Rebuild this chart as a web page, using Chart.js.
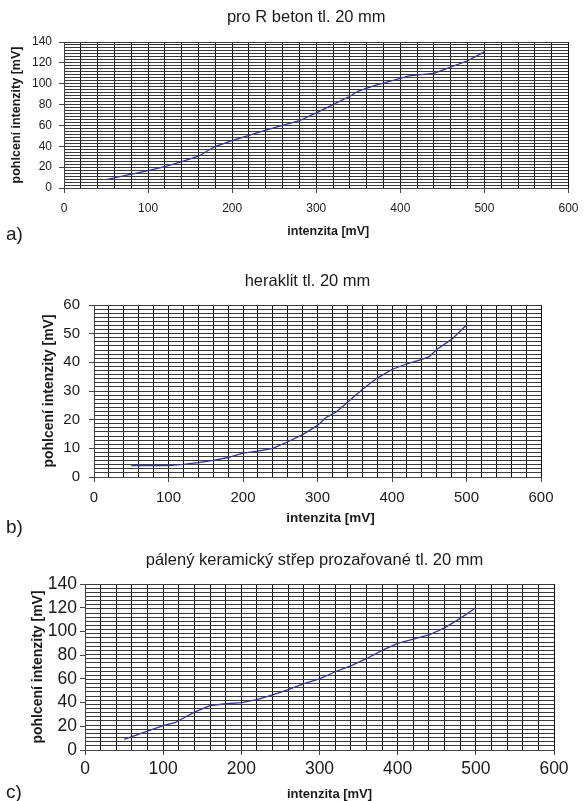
<!DOCTYPE html>
<html>
<head>
<meta charset="utf-8">
<script src="https://cdn.jsdelivr.net/npm/chart.js@4/dist/chart.umd.min.js"></script>
<style>
body{margin:0;background:#fff;width:587px;height:801px;overflow:hidden;position:relative}
canvas{position:absolute;left:0}
</style>
</head>
<body>
<canvas id="cA" width="587" height="250" style="top:0"></canvas>
<canvas id="cB" width="587" height="290" style="top:250px"></canvas>
<canvas id="cC" width="587" height="261" style="top:540px"></canvas>
<script>
// a) pro R beton
const betonX=[50,100,120,140,160,180,200,220,240,260,280,300,320,340,350,370,400,410,440,455,480,500];
const betonY=[8,16.6,20.4,25.2,30.5,40,45.5,50.5,55.5,60,64.5,72,80,88,93,98.5,105,107.5,110,114.5,122,130.5];
// b) heraklit
const heraklitX=[50,100,120,140,160,180,200,220,240,260,280,300,310,325,340,360,380,400,420,440,450,460,480,500];
const heraklitY=[4,4,4.4,5,5.8,6.8,8.3,9,10,12.3,14.8,18,20.5,22.7,26,30.5,34.5,37.5,39.5,41,42,44.5,48,53];
// c) pálený keramický střep
const strepX=[50,100,115,140,160,180,200,220,240,260,280,300,320,340,360,380,400,420,440,460,480,500];
const strepY=[9,20.5,23,32,37.5,39,40,42.5,46.5,51,56,60,66,71,77,84,90,93.5,97,103,111,120];

const xTicks=[0,100,200,300,400,500,600];
const FONT='"Liberation Sans", Arial, sans-serif';

// titles, x-axis title and panel letter (positioned like the scanned original)
const panelText={
  id:'panelText',
  afterDraw(ch,args,o){
    const c=ch.ctx, a=ch.chartArea;
    const mid=(a.left+a.right)/2;
    c.save();
    c.fillStyle='#1a1a1a';
    c.textBaseline='middle';
    c.textAlign='center';
    c.font=o.titleSize+'px '+FONT;
    c.fillText(o.title,mid+o.dx,o.titleY);
    c.font='bold '+o.xtSize+'px '+FONT;
    c.fillText('intenzita [mV]',mid+o.xtDx,o.xtY);
    c.textAlign='left';
    c.font=o.letterSize+'px '+FONT;
    c.fillText(o.letter,6,o.letterY);
    c.restore();
  }
};

function makeChart(id,p){
  const pts=p.xs.map((x,i)=>({x,y:p.ys[i]}));
  return new Chart(document.getElementById(id),{
    type:'line',
    data:{datasets:[{data:pts,borderColor:'#34349a',borderWidth:1.3,pointRadius:0,tension:0,fill:false}]},
    plugins:[panelText],
    options:{
      responsive:false,animation:false,
      layout:{padding:{left:0,right:p.padR,top:p.top,bottom:0}},
      plugins:{legend:{display:false},tooltip:{enabled:false},title:{display:false},
        panelText:{title:p.title,titleY:p.titleY,titleSize:16.5,dx:p.dx,
          xtSize:p.xtSize,xtY:p.xtY,xtDx:p.xtDx,
          letter:p.letter,letterY:p.letterY,letterSize:19}},
      scales:{
        x:{type:'linear',min:0,max:600,
          ticks:{stepSize:20,autoSkip:false,maxRotation:0,color:'#1a1a1a',font:{family:FONT,size:p.tickSize},padding:p.xPad,
            callback:v=>xTicks.includes(v)?String(v):''},
          grid:{color:'#111',lineWidth:1,tickLength:5,tickColor:c=>c.tick&&xTicks.includes(c.tick.value)?'#444':'rgba(0,0,0,0)'},
          border:{color:'#444'},
          afterFit:s=>{s.height=p.xH;}
        },
        y:{min:0,max:p.yMax,
          ticks:{stepSize:p.yMajor,autoSkip:false,color:'#1a1a1a',font:{family:FONT,size:p.tickSize},padding:p.yPad},
          grid:{drawOnChartArea:false,tickLength:5,tickColor:'#444'},
          border:{color:'#444'},
          title:{display:true,text:'pohlcení intenzity [mV]',color:'#1a1a1a',font:{family:FONT,size:p.yTitleSize,weight:'bold'},padding:{top:p.yTitlePad,bottom:0}},
          afterFit:s=>{s.width=p.yW;}
        },
        y2:{position:'right',min:0,max:p.yMax,
          ticks:{display:false,stepSize:p.yMinor},
          grid:{color:'#3a3a3a',lineWidth:1,drawTicks:false},
          border:{display:false},
          afterFit:s=>{s.width=0;}
        }
      }
    }
  });
}

makeChart('cA',{xs:betonX,ys:betonY,yMax:140,yMajor:20,yMinor:20/7,
  title:'pro R beton tl. 20 mm',titleY:17,dx:-10,letter:'a)',letterY:235,
  xtSize:12.5,xtY:232,xtDx:12,
  padR:10,top:42,yW:64,xH:62,tickSize:12,xPad:8.5,yPad:7,yTitleSize:12.5,yTitlePad:9.5});

makeChart('cB',{xs:heraklitX,ys:heraklitY,yMax:60,yMajor:10,yMinor:10/7,
  title:'heraklit tl. 20 mm',titleY:31,dx:-10,letter:'b)',letterY:278,
  xtSize:13.5,xtY:268,xtDx:13,
  padR:46,top:55,yW:94,xH:63,tickSize:15,xPad:7,yPad:9,yTitleSize:14,yTitlePad:40.5});

makeChart('cC',{xs:strepX,ys:strepY,yMax:140,yMajor:20,yMinor:3.5,
  title:'pálený keramický střep prozařované tl. 20 mm',titleY:20,dx:-5,letter:'c)',letterY:253,
  xtSize:13,xtY:254,xtDx:10,
  padR:33,top:44,yW:85,xH:51,tickSize:17.5,xPad:4,yPad:3,yTitleSize:14,yTitlePad:29.6});
</script>
</body>
</html>
